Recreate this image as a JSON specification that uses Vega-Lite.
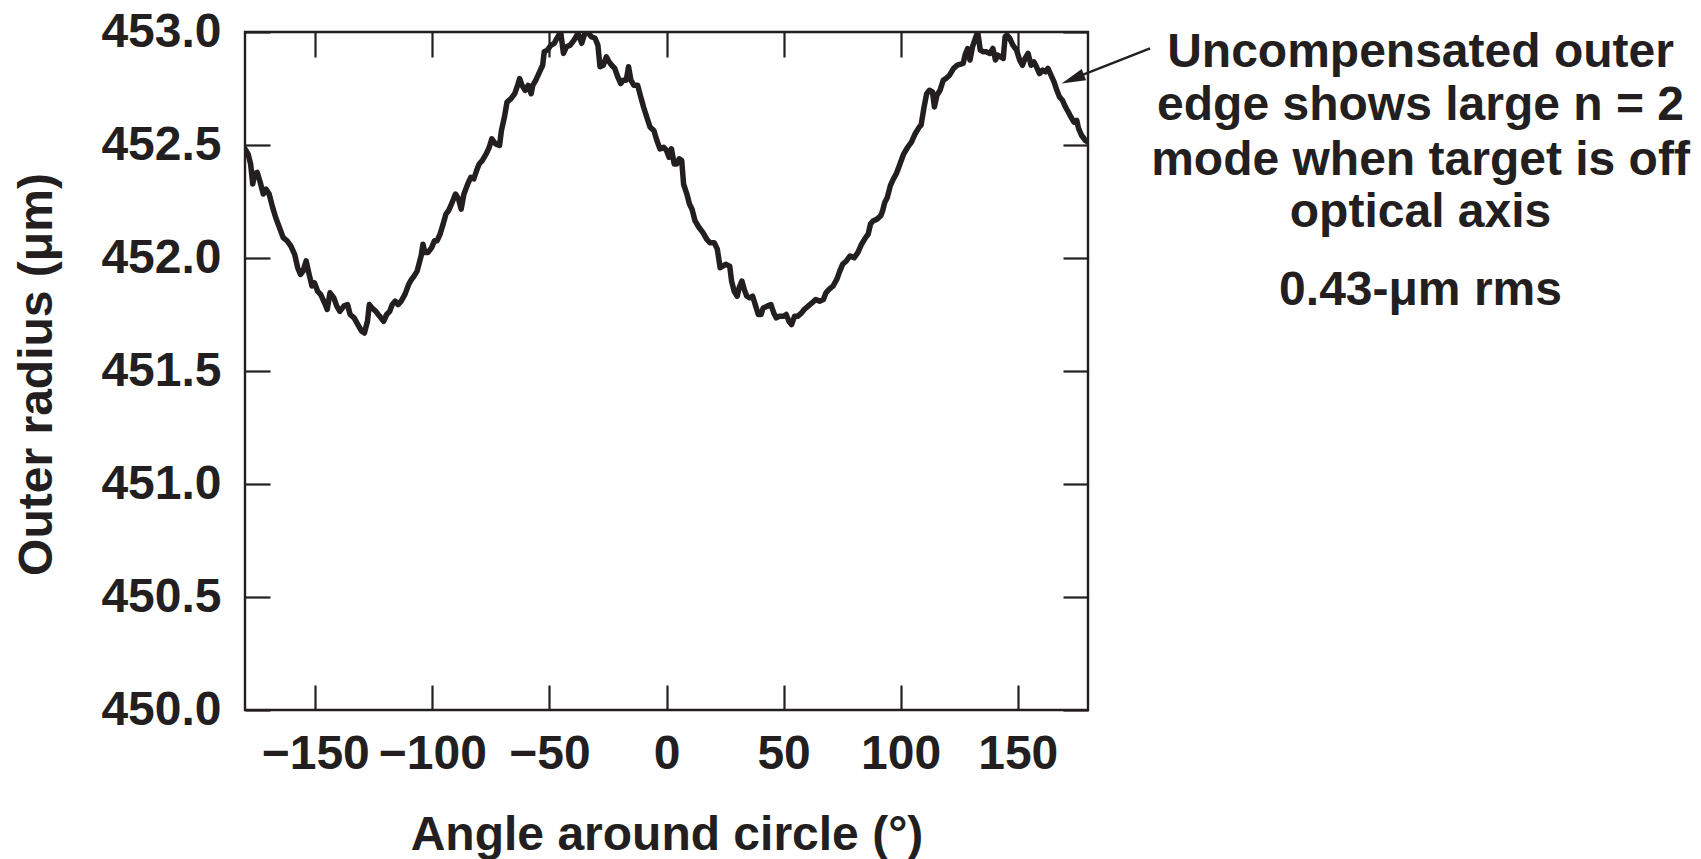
{
  "$schema": "https://vega.github.io/schema/vega-lite/v6.json",
  "width": 843,
  "height": 678,
  "autosize": {"type": "none"},
  "padding": {"left": 245, "top": 32, "right": 613, "bottom": 149},
  "background": "white",
  "config": {
    "font": "Liberation Sans",
    "view": {"stroke": "#231f20", "strokeWidth": 2.4},
    "line": {"strokeWidth": 5.5},
    "axis": {
      "domain": false,
      "grid": false,
      "tickColor": "#231f20",
      "tickWidth": 2.2,
      "tickSize": -25,
      "labelFont": "Liberation Sans",
      "labelFontSize": 48,
      "labelFontWeight": "bold",
      "labelColor": "#231f20",
      "labelFlush": false,
      "labelOverlap": false,
      "titleFont": "Liberation Sans",
      "titleFontSize": 48,
      "titleFontWeight": "bold",
      "titleColor": "#231f20"
    }
  },
  "datasets": {
    "curve": [
      {"a": -180.0, "r": 452.483}, {"a": -178.7, "r": 452.461}, {"a": -177.6, "r": 452.416}, {"a": -176.7, "r": 452.327},
      {"a": -175.9, "r": 452.372}, {"a": -174.8, "r": 452.379}, {"a": -173.5, "r": 452.335}, {"a": -172.2, "r": 452.283},
      {"a": -171.0, "r": 452.305}, {"a": -169.7, "r": 452.283}, {"a": -168.2, "r": 452.224}, {"a": -166.9, "r": 452.179},
      {"a": -165.3, "r": 452.135}, {"a": -163.7, "r": 452.090}, {"a": -162.0, "r": 452.076}, {"a": -160.4, "r": 452.053},
      {"a": -158.8, "r": 452.016}, {"a": -157.5, "r": 451.957}, {"a": -156.3, "r": 451.927}, {"a": -155.2, "r": 451.942},
      {"a": -153.9, "r": 451.987}, {"a": -152.6, "r": 451.927}, {"a": -151.4, "r": 451.876}, {"a": -150.3, "r": 451.890},
      {"a": -149.0, "r": 451.853}, {"a": -147.7, "r": 451.839}, {"a": -146.0, "r": 451.801}, {"a": -144.9, "r": 451.772},
      {"a": -143.7, "r": 451.846}, {"a": -142.1, "r": 451.824}, {"a": -140.8, "r": 451.787}, {"a": -139.5, "r": 451.764},
      {"a": -137.8, "r": 451.787}, {"a": -136.2, "r": 451.794}, {"a": -135.1, "r": 451.750}, {"a": -133.4, "r": 451.735},
      {"a": -131.8, "r": 451.705}, {"a": -130.2, "r": 451.676}, {"a": -129.0, "r": 451.668}, {"a": -127.7, "r": 451.720},
      {"a": -126.9, "r": 451.794}, {"a": -125.8, "r": 451.779}, {"a": -124.1, "r": 451.764}, {"a": -122.5, "r": 451.742},
      {"a": -120.8, "r": 451.720}, {"a": -119.5, "r": 451.750}, {"a": -118.2, "r": 451.764}, {"a": -117.1, "r": 451.794},
      {"a": -115.9, "r": 451.809}, {"a": -114.6, "r": 451.794}, {"a": -113.3, "r": 451.809}, {"a": -111.7, "r": 451.839},
      {"a": -110.1, "r": 451.883}, {"a": -108.9, "r": 451.905}, {"a": -107.8, "r": 451.920}, {"a": -106.5, "r": 451.942},
      {"a": -104.8, "r": 452.009}, {"a": -104.0, "r": 452.061}, {"a": -103.2, "r": 452.024}, {"a": -101.9, "r": 452.024},
      {"a": -100.3, "r": 452.046}, {"a": -99.1, "r": 452.076}, {"a": -98.0, "r": 452.076}, {"a": -96.7, "r": 452.105},
      {"a": -95.4, "r": 452.150}, {"a": -94.2, "r": 452.194}, {"a": -93.1, "r": 452.209}, {"a": -91.8, "r": 452.239},
      {"a": -90.1, "r": 452.283}, {"a": -88.8, "r": 452.261}, {"a": -87.7, "r": 452.216}, {"a": -86.5, "r": 452.283},
      {"a": -84.9, "r": 452.327}, {"a": -83.6, "r": 452.357}, {"a": -82.3, "r": 452.350}, {"a": -81.1, "r": 452.387},
      {"a": -80.0, "r": 452.416}, {"a": -78.7, "r": 452.431}, {"a": -77.0, "r": 452.461}, {"a": -75.7, "r": 452.490},
      {"a": -74.6, "r": 452.527}, {"a": -73.0, "r": 452.505}, {"a": -71.3, "r": 452.498}, {"a": -70.5, "r": 452.564},
      {"a": -69.2, "r": 452.624}, {"a": -68.1, "r": 452.690}, {"a": -66.4, "r": 452.705}, {"a": -64.8, "r": 452.727},
      {"a": -63.6, "r": 452.764}, {"a": -62.7, "r": 452.794}, {"a": -61.7, "r": 452.764}, {"a": -60.4, "r": 452.742},
      {"a": -59.1, "r": 452.764}, {"a": -57.8, "r": 452.727}, {"a": -57.1, "r": 452.764}, {"a": -55.8, "r": 452.787},
      {"a": -54.2, "r": 452.824}, {"a": -52.9, "r": 452.853}, {"a": -52.2, "r": 452.913}, {"a": -50.9, "r": 452.920},
      {"a": -49.3, "r": 452.942}, {"a": -47.9, "r": 452.950}, {"a": -46.8, "r": 452.972}, {"a": -45.2, "r": 453.0},
      {"a": -44.0, "r": 452.905}, {"a": -42.7, "r": 452.935}, {"a": -41.1, "r": 452.942}, {"a": -39.5, "r": 452.964},
      {"a": -37.8, "r": 452.994}, {"a": -36.2, "r": 452.950}, {"a": -34.9, "r": 452.994}, {"a": -33.7, "r": 453.0},
      {"a": -32.1, "r": 452.979}, {"a": -30.5, "r": 452.972}, {"a": -29.3, "r": 452.942}, {"a": -28.4, "r": 452.846},
      {"a": -27.0, "r": 452.853}, {"a": -25.7, "r": 452.890}, {"a": -24.5, "r": 452.868}, {"a": -23.4, "r": 452.853},
      {"a": -22.1, "r": 452.839}, {"a": -20.8, "r": 452.801}, {"a": -19.5, "r": 452.772}, {"a": -18.5, "r": 452.787},
      {"a": -17.2, "r": 452.787}, {"a": -16.2, "r": 452.846}, {"a": -15.2, "r": 452.787}, {"a": -13.9, "r": 452.764},
      {"a": -12.3, "r": 452.764}, {"a": -11.0, "r": 452.713}, {"a": -9.8, "r": 452.668}, {"a": -8.2, "r": 452.616},
      {"a": -7.0, "r": 452.579}, {"a": -5.4, "r": 452.564}, {"a": -4.1, "r": 452.520}, {"a": -2.8, "r": 452.483},
      {"a": -1.2, "r": 452.490}, {"a": 0.0, "r": 452.476}, {"a": 1.1, "r": 452.446}, {"a": 2.1, "r": 452.483},
      {"a": 3.3, "r": 452.416}, {"a": 4.4, "r": 452.416}, {"a": 5.4, "r": 452.439}, {"a": 6.5, "r": 452.431},
      {"a": 7.3, "r": 452.327}, {"a": 8.7, "r": 452.283}, {"a": 9.8, "r": 452.239}, {"a": 10.9, "r": 452.216},
      {"a": 12.2, "r": 452.164}, {"a": 13.9, "r": 452.135}, {"a": 15.5, "r": 452.113}, {"a": 17.2, "r": 452.083},
      {"a": 18.5, "r": 452.068}, {"a": 20.4, "r": 452.068}, {"a": 21.7, "r": 452.039}, {"a": 22.9, "r": 451.957},
      {"a": 24.0, "r": 451.964}, {"a": 25.3, "r": 451.972}, {"a": 27.0, "r": 451.964}, {"a": 27.8, "r": 451.898},
      {"a": 28.9, "r": 451.853}, {"a": 30.2, "r": 451.831}, {"a": 31.0, "r": 451.868}, {"a": 32.2, "r": 451.898},
      {"a": 33.2, "r": 451.861}, {"a": 34.3, "r": 451.831}, {"a": 35.5, "r": 451.824}, {"a": 36.8, "r": 451.831},
      {"a": 38.1, "r": 451.787}, {"a": 39.2, "r": 451.750}, {"a": 40.4, "r": 451.750}, {"a": 41.3, "r": 451.779},
      {"a": 43.0, "r": 451.787}, {"a": 44.6, "r": 451.794}, {"a": 45.8, "r": 451.757}, {"a": 46.9, "r": 451.735},
      {"a": 48.2, "r": 451.742}, {"a": 49.8, "r": 451.742}, {"a": 51.1, "r": 451.750}, {"a": 52.3, "r": 451.720},
      {"a": 53.4, "r": 451.705}, {"a": 54.7, "r": 451.742}, {"a": 56.0, "r": 451.742}, {"a": 57.7, "r": 451.757},
      {"a": 58.8, "r": 451.772}, {"a": 60.5, "r": 451.787}, {"a": 62.1, "r": 451.801}, {"a": 63.7, "r": 451.816},
      {"a": 65.4, "r": 451.809}, {"a": 67.0, "r": 451.816}, {"a": 68.1, "r": 451.846}, {"a": 69.4, "r": 451.861},
      {"a": 71.1, "r": 451.876}, {"a": 72.7, "r": 451.905}, {"a": 74.0, "r": 451.942}, {"a": 75.2, "r": 451.972},
      {"a": 76.8, "r": 451.987}, {"a": 78.4, "r": 452.009}, {"a": 80.1, "r": 452.001}, {"a": 81.7, "r": 452.024},
      {"a": 83.3, "r": 452.061}, {"a": 85.0, "r": 452.090}, {"a": 86.1, "r": 452.105}, {"a": 87.1, "r": 452.150},
      {"a": 88.2, "r": 452.164}, {"a": 89.9, "r": 452.172}, {"a": 91.5, "r": 452.187}, {"a": 92.3, "r": 452.209},
      {"a": 93.2, "r": 452.246}, {"a": 94.3, "r": 452.268}, {"a": 95.6, "r": 452.320}, {"a": 96.9, "r": 452.350},
      {"a": 98.1, "r": 452.372}, {"a": 99.7, "r": 452.416}, {"a": 101.3, "r": 452.461}, {"a": 103.0, "r": 452.490},
      {"a": 104.6, "r": 452.513}, {"a": 106.2, "r": 452.550}, {"a": 107.9, "r": 452.579}, {"a": 108.7, "r": 452.587},
      {"a": 110.0, "r": 452.668}, {"a": 111.1, "r": 452.727}, {"a": 112.3, "r": 452.742}, {"a": 113.6, "r": 452.735},
      {"a": 114.4, "r": 452.668}, {"a": 115.5, "r": 452.720}, {"a": 116.8, "r": 452.742}, {"a": 118.2, "r": 452.787},
      {"a": 119.3, "r": 452.794}, {"a": 120.9, "r": 452.809}, {"a": 122.6, "r": 452.839}, {"a": 124.2, "r": 452.853},
      {"a": 126.7, "r": 452.861}, {"a": 127.5, "r": 452.898}, {"a": 128.6, "r": 452.927}, {"a": 129.6, "r": 452.876},
      {"a": 130.7, "r": 452.935}, {"a": 131.9, "r": 452.972}, {"a": 132.9, "r": 453.0}, {"a": 134.0, "r": 452.920},
      {"a": 135.2, "r": 452.913}, {"a": 136.5, "r": 452.913}, {"a": 138.1, "r": 452.905}, {"a": 139.4, "r": 452.927},
      {"a": 140.5, "r": 452.876}, {"a": 141.4, "r": 452.898}, {"a": 142.7, "r": 452.890}, {"a": 143.8, "r": 452.883},
      {"a": 144.6, "r": 452.979}, {"a": 145.4, "r": 452.987}, {"a": 146.6, "r": 452.972}, {"a": 147.9, "r": 452.942},
      {"a": 149.5, "r": 452.920}, {"a": 150.8, "r": 452.876}, {"a": 152.0, "r": 452.853}, {"a": 153.1, "r": 452.883},
      {"a": 154.4, "r": 452.905}, {"a": 155.7, "r": 452.853}, {"a": 156.9, "r": 452.868}, {"a": 158.0, "r": 452.846},
      {"a": 159.3, "r": 452.816}, {"a": 160.6, "r": 452.831}, {"a": 161.8, "r": 452.824}, {"a": 162.9, "r": 452.839},
      {"a": 164.2, "r": 452.809}, {"a": 165.5, "r": 452.779}, {"a": 166.7, "r": 452.742}, {"a": 167.8, "r": 452.713},
      {"a": 169.1, "r": 452.698}, {"a": 170.4, "r": 452.668}, {"a": 171.6, "r": 452.646}, {"a": 172.7, "r": 452.624},
      {"a": 174.0, "r": 452.601}, {"a": 175.2, "r": 452.609}, {"a": 176.0, "r": 452.572}, {"a": 177.3, "r": 452.542},
      {"a": 178.9, "r": 452.520}, {"a": 180.0, "r": 452.513}
    ],
    "arrow": [{"x": 206.5, "y": 452.928, "x2": 172.0, "y2": 452.787}],
    "head": [{"x": 173.5, "y": 452.792}],
    "notes": [
      {"x": 322, "y": 452.846, "t": "Uncompensated outer"},
      {"x": 322, "y": 452.611, "t": "edge shows large n = 2"},
      {"x": 322, "y": 452.367, "t": "mode when target is off"},
      {"x": 322, "y": 452.137, "t": "optical axis"},
      {"x": 322, "y": 451.792, "t": "0.43-μm rms"}
    ]
  },
  "resolve": {"axis": {"x": "independent", "y": "independent"}},
  "layer": [
    {
      "data": {"name": "curve"},
      "mark": {"type": "line", "stroke": "#231f20", "strokeWidth": 5.5, "strokeJoin": "round", "strokeCap": "round", "clip": true},
      "encoding": {
        "x": {
          "field": "a", "type": "quantitative",
          "scale": {"domain": [-180, 180], "nice": false, "zero": false},
          "axis": {
            "orient": "bottom",
            "values": [-150, -100, -50, 0, 50, 100, 150],
            "labelPadding": 83,
            "labelBaseline": "alphabetic",
            "title": "Angle around circle (°)",
            "titleX": 421.5, "titleY": 139,
            "titleAlign": "center", "titleBaseline": "alphabetic"
          }
        },
        "y": {
          "field": "r", "type": "quantitative",
          "scale": {"domain": [450, 453], "nice": false, "zero": false},
          "axis": {
            "orient": "left",
            "values": [450, 450.5, 451, 451.5, 452, 452.5, 453],
            "format": ".1f",
            "labelPadding": 49,
            "labelBaseline": "middle",
            "title": "Outer radius (μm)",
            "titleAngle": -90,
            "titleX": -194, "titleY": 342,
            "titleAlign": "center", "titleBaseline": "alphabetic"
          }
        }
      }
    },
    {
      "data": {"name": "arrow"},
      "mark": {"type": "rule", "color": "#231f20", "strokeWidth": 2.4, "clip": false},
      "encoding": {
        "x": {
          "field": "x", "type": "quantitative",
          "scale": {"domain": [-180, 180], "nice": false, "zero": false},
          "axis": {"orient": "top", "values": [-150, -100, -50, 0, 50, 100, 150], "labels": false, "title": null}
        },
        "y": {
          "field": "y", "type": "quantitative",
          "scale": {"domain": [450, 453], "nice": false, "zero": false},
          "axis": {"orient": "right", "values": [450, 450.5, 451, 451.5, 452, 452.5, 453], "labels": false, "title": null}
        },
        "x2": {"field": "x2"},
        "y2": {"field": "y2"}
      }
    },
    {
      "data": {"name": "head"},
      "mark": {"type": "point", "shape": "M0,-1L0.5,1L-0.5,1Z", "filled": true, "color": "#231f20", "opacity": 1, "size": 576, "angle": 248.4, "clip": false},
      "encoding": {
        "x": {"field": "x", "type": "quantitative", "axis": null},
        "y": {"field": "y", "type": "quantitative", "axis": null}
      }
    },
    {
      "data": {"name": "notes"},
      "mark": {"type": "text", "font": "Liberation Sans", "fontSize": 48, "fontWeight": "bold", "color": "#231f20", "align": "center", "baseline": "alphabetic", "clip": false},
      "encoding": {
        "x": {"field": "x", "type": "quantitative", "axis": null},
        "y": {"field": "y", "type": "quantitative", "axis": null},
        "text": {"field": "t"}
      }
    }
  ]
}
